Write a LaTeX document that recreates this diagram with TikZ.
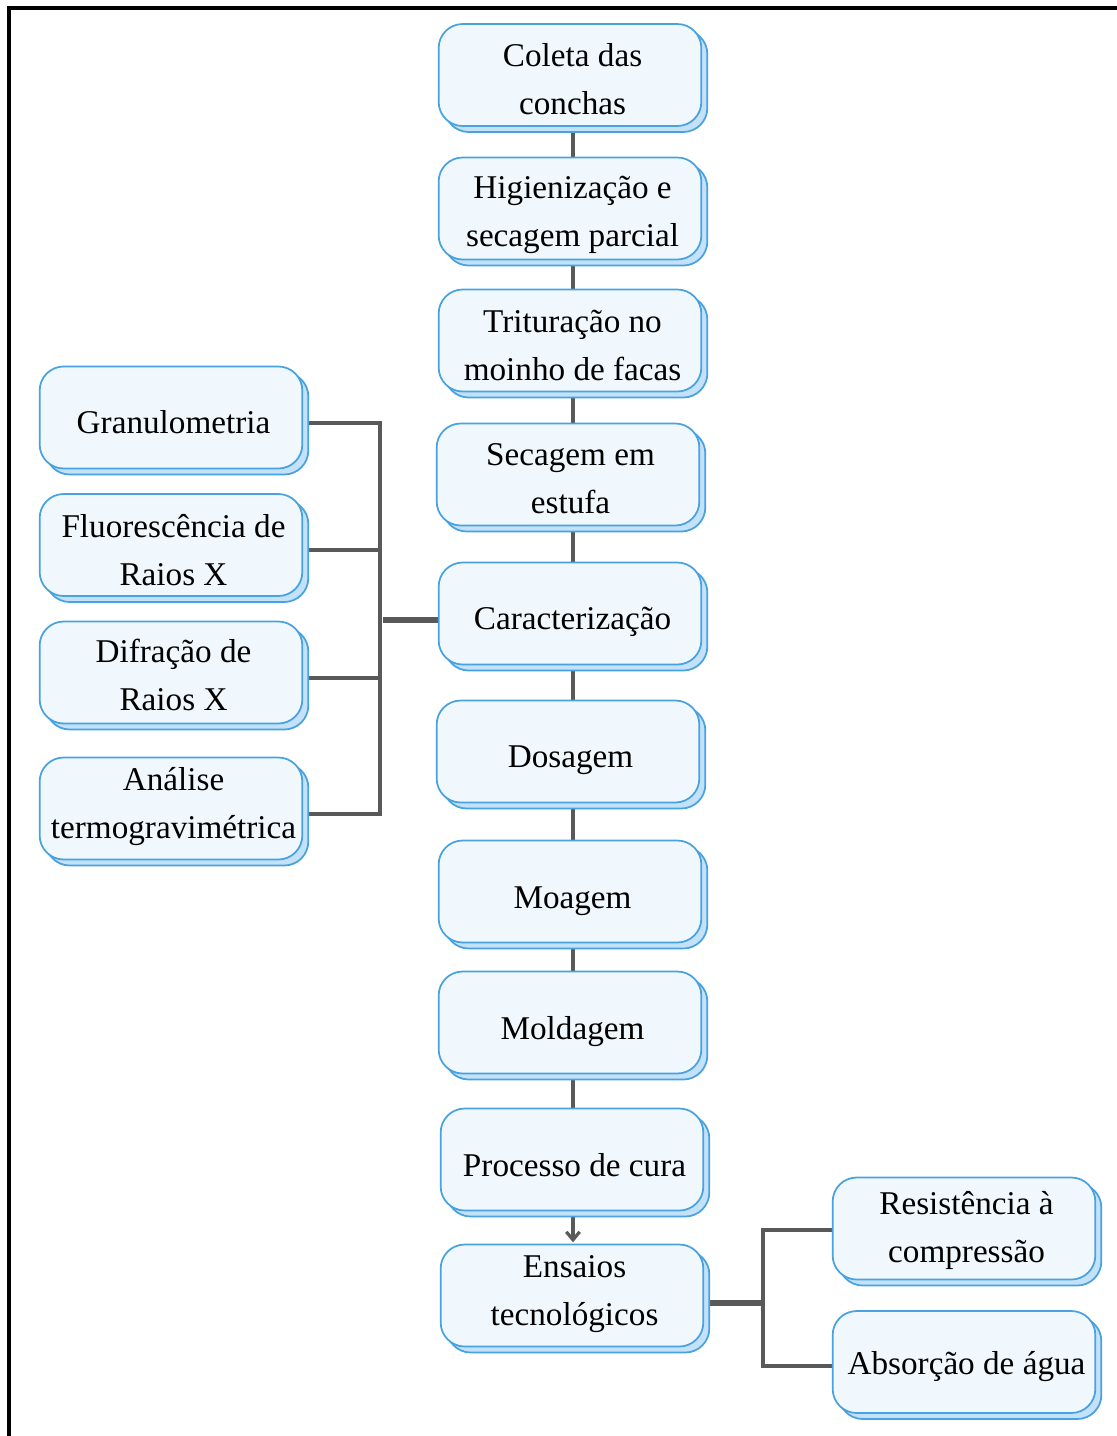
\documentclass[tikz,border=0pt]{standalone}
\usepackage{fontspec}
\setmainfont{Liberation Serif}
\usetikzlibrary{shadows,arrows.meta,backgrounds}
\definecolor{boxblue}{HTML}{48A2DF}
\definecolor{boxfill}{HTML}{F0F8FD}
\definecolor{shadowblue}{HTML}{C3E1F8}
\definecolor{connGray}{HTML}{595959}
\tikzset{
  stepbox/.style={rectangle, rounded corners=18pt, draw=boxblue, line width=1.3pt,
    fill=boxfill, minimum width=197pt, minimum height=76.5pt, inner sep=0pt,
    general shadow={shadow xshift=4.5pt, shadow yshift=-4.5pt, fill=shadowblue, draw=boxblue, line width=1.3pt}},
  lbl/.style={align=center, inner sep=0pt, xshift=1.9pt, font=\fontsize{24.9}{36}\selectfont},
  conn/.style={draw=connGray, line width=3pt},
  thickconn/.style={draw=connGray, line width=4.5pt},
}
\begin{document}
\begin{tikzpicture}[x=0.75pt,y=-0.75pt]
\useasboundingbox (0,0) rectangle (1117,1436);
\draw[line width=2.4pt] (9,1436) -- (9,8) -- (1117,8);

\node[stepbox,label={[lbl,yshift=-3pt]center:{Coleta das\\conchas}}] (coleta) at (570,75) {};
\node[stepbox,label={[lbl,yshift=-5pt]center:{Higienização e\\secagem parcial}}] (hig) at (570,208.5) {};
\node[stepbox,label={[lbl,yshift=-3.75pt]center:{Trituração no\\moinho de facas}}] (trit) at (570,340.5) {};
\node[stepbox,label={[lbl,yshift=-3pt]center:{Secagem em\\estufa}}] (sec) at (568,474.5) {};
\node[stepbox,label={[lbl,yshift=-6pt]center:{Caracterização}}] (car) at (570,613.5) {};
\node[stepbox,label={[lbl,yshift=-6.75pt]center:{Dosagem}}] (dos) at (568,751.5) {};
\node[stepbox,label={[lbl,yshift=-7.5pt]center:{Moagem}}] (moa) at (570,891.5) {};
\node[stepbox,label={[lbl,yshift=-6.75pt]center:{Moldagem}}] (mol) at (570,1022.5) {};
\node[stepbox,label={[lbl,yshift=-4.5pt]center:{Processo de cura}}] (cura) at (572,1159.5) {};
\node[stepbox,label={[lbl,yshift=0.75pt]center:{Ensaios\\tecnológicos}}] (ens) at (572,1295.5) {};

\node[stepbox,label={[lbl,yshift=-3.75pt]center:{Granulometria}}] (gran) at (171,417.5) {};
\node[stepbox,label={[lbl,yshift=-3.75pt]center:{Fluorescência de\\Raios X}}] (fluor) at (171,545) {};
\node[stepbox,label={[lbl,yshift=-1.5pt]center:{Difração de\\Raios X}}] (difr) at (171,672.5) {};
\node[stepbox,label={[lbl,yshift=1.5pt]center:{Análise\\termogravimétrica}}] (tga) at (171,808.5) {};

\node[stepbox,label={[lbl,yshift=-1.5pt]center:{Resistência à\\compressão}}] (res) at (964,1228.5) {};
\node[stepbox,label={[lbl,yshift=-3.75pt]center:{Absorção de água}}] (abs) at (964,1362) {};

\coordinate (X) at (573,0);
\coordinate (L) at (380,0);
\coordinate (R) at (763,0);

\begin{scope}[on background layer]
\draw[conn] (coleta.south -| X) -- (hig.north -| X);
\draw[conn] (hig.south -| X) -- (trit.north -| X);
\draw[conn] (trit.south -| X) -- (sec.north -| X);
\draw[conn] (sec.south -| X) -- (car.north -| X);
\draw[conn] (car.south -| X) -- (dos.north -| X);
\draw[conn] (dos.south -| X) -- (moa.north -| X);
\draw[conn] (moa.south -| X) -- (mol.north -| X);
\draw[conn] (mol.south -| X) -- (cura.north -| X);
\draw[conn,-{Straight Barb[length=6pt,width=10pt,line width=2.4pt]}] (cura.south -| X) -- ([yshift=1pt]ens.north -| X);

\draw[conn] ([yshift=-3.75pt]gran.east) -- ([yshift=-3.75pt]gran.east -| L) -- ([yshift=-3.75pt]tga.east -| L) -- ([yshift=-3.75pt]tga.east);
\draw[conn] ([yshift=-3.75pt]fluor.east) -- ([yshift=-3.75pt]fluor.east -| L);
\draw[conn] ([yshift=-3.75pt]difr.east) -- ([yshift=-3.75pt]difr.east -| L);
\draw[thickconn] ([xshift=2.25pt,yshift=-4.9pt]car.west -| L) -- ([yshift=-4.9pt]car.west);

\draw[thickconn] ([yshift=-5.6pt]ens.east) -- ([yshift=-5.6pt]ens.east -| R);
\draw[conn] ([yshift=-1.1pt]res.west) -- ([yshift=-1.1pt]res.west -| R) -- ([yshift=-3pt]abs.west -| R) -- ([yshift=-3pt]abs.west);
\end{scope}
\end{tikzpicture}
\end{document}
